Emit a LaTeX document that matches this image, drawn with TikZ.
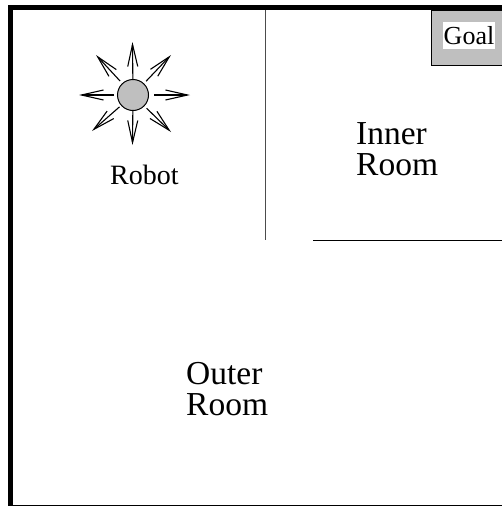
\documentclass[tikz,border=0pt]{standalone}
\usepackage{fontspec}
\setmainfont{Liberation Serif}
\usetikzlibrary{arrows.meta}
\tikzset{
  wall/.style={line width=5pt,black},
  thinwall/.style={line width=1pt,black},
  ray/.style={line width=1.1pt,-{Straight Barb[length=22pt,width=10pt,line width=1.1pt]}},
  label/.style={inner sep=0pt,anchor=base west,align=left,font=\fontsize{33.5}{30.5}\selectfont},
}
\begin{document}
\begin{tikzpicture}[x=1pt,y=-1pt]
\useasboundingbox (0,0) rectangle (502,506);
\fill[white] (0,0) rectangle (502,506);
% goal area
\draw[fill=black!25,line width=1pt] (502,10) -- (431.5,10) -- (431.5,65) -- (502,65);
\node[fill=white,inner sep=0pt,minimum width=52pt,minimum height=27pt,font=\fontsize{26}{26}\selectfont] (goal) at (469,35.5) {Goal};
% walls
\draw[thinwall] (8,505) -- (502,505);
\draw[wall] (10.5,506) -- (10.5,7.5) -- (502,7.5);
\draw[thinwall,black!70] (265,10) -- (265,240);
\draw[thinwall] (313,240.5) -- (502,240.5);
% robot
\node[circle,draw,fill=black!25,line width=1pt,minimum size=31pt,inner sep=0pt] (robot) at (133,95) {};
\coordinate (n) at (132.5,42);
\coordinate (s) at (132.5,145);
\coordinate (e) at (190,95);
\coordinate (w) at (79,95);
\coordinate (ne) at (171,55);
\coordinate (nw) at (96,55);
\coordinate (sw) at (92,131);
\coordinate (se) at (171,132);
\foreach \c/\g in {n/0,s/0,e/5,w/3,ne/3,nw/3,sw/2,se/3}{
  \draw[ray,shorten <=\g pt] (robot) -- (\c);
}
% labels
\node[inner sep=0pt,anchor=base west,font=\fontsize{28}{28}\selectfont] (robotlabel) at (110,184) {Robot};
\node[label] (inner) at (356,175) {Inner\\Room};
\node[label] (outer) at (186,415) {Outer\\Room};
\end{tikzpicture}
\end{document}
